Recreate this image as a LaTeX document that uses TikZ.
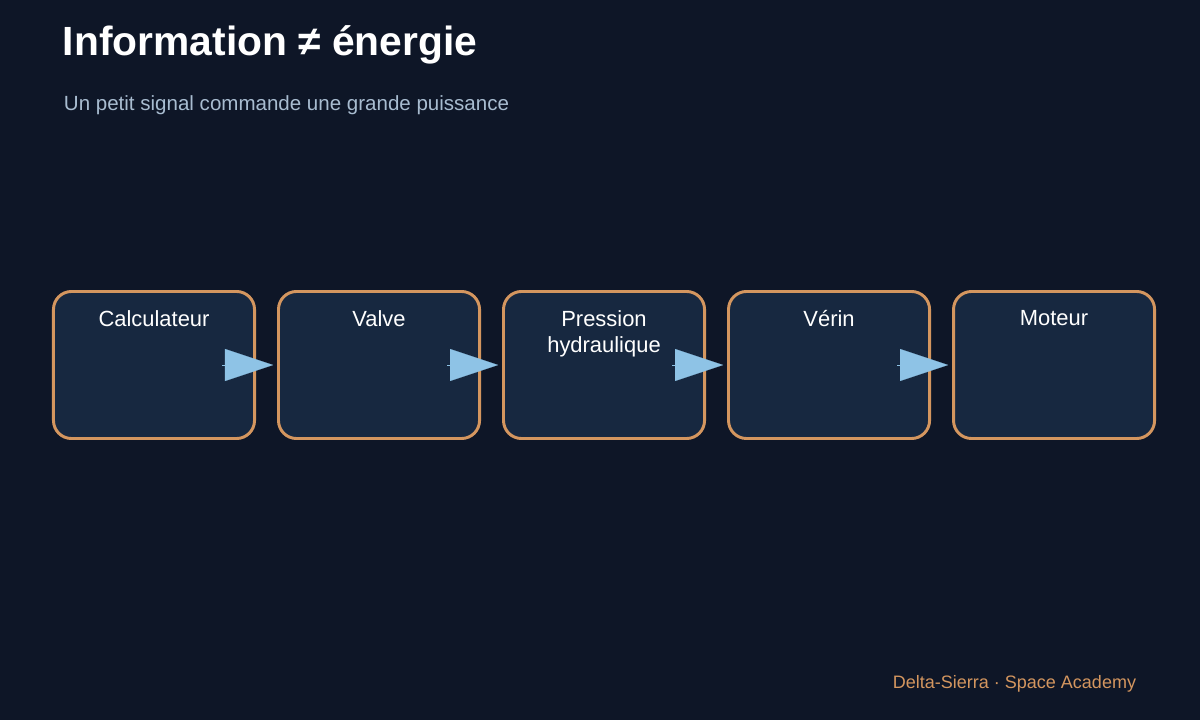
\documentclass[tikz,border=0pt]{standalone}
\usepackage{fontspec}
\setmainfont{Liberation Sans}
\usetikzlibrary{positioning,arrows.meta}
\definecolor{bgdark}{HTML}{0E1627}
\definecolor{boxfill}{HTML}{172840}
\definecolor{boxedge}{HTML}{D4965F}
\definecolor{flowblue}{HTML}{8EC3E6}
\definecolor{subgray}{HTML}{A8BCD0}
\tikzset{
  stage/.style={draw=boxedge,fill=boxfill,line width=2.1pt,rounded corners=0.45cm,
    minimum width=5.025cm,minimum height=3.675cm,inner sep=0pt},
  stagetext/.style={text=white,font=\fontsize{15.6}{18.5}\selectfont,align=center,anchor=north},
  flow/.style={draw=flowblue,line width=0.1pt,-{Triangle[length=1.2cm,width=0.8cm,fill=flowblue]}}
}
\begin{document}
\begin{tikzpicture}[x=0.025cm,y=-0.025cm]
  \fill[bgdark] (0,0) rectangle (1200,720);
  \useasboundingbox (0,0) rectangle (1200,720);
  % titre
  \node[anchor=west,text=white,font=\bfseries\fontsize{29}{34}\selectfont] (title) at (58,45) {Information ≠ énergie};
  \node[anchor=west,text=subgray,font=\fontsize{14.6}{17}\selectfont] (subtitle) at (59,105) {Un petit signal commande une grande puissance};
  % chaine
  \node[stage] (calc) at (154,365) {};
  \node[stage,right=0.525cm of calc] (valve) {};
  \node[stage,right=0.525cm of valve] (press) {};
  \node[stage,right=0.525cm of press] (verin) {};
  \node[stage,right=0.525cm of verin] (moteur) {};
  \foreach \n/\t in {calc/Calculateur,valve/Valve,press/{Pression\\hydraulique},verin/Vérin,moteur/Moteur}{
    \node[stagetext] at ([yshift=-0.38cm]\n.north) {\t};
  }
  \foreach \a/\b in {calc/valve,valve/press,press/verin,verin/moteur}{
    \draw[flow] ([xshift=-0.85cm]\a.east) -- ([xshift=-0.1cm]\b.west);
  }
  % pied
  \node[anchor=east,text=boxedge,font=\fontsize{12.8}{15}\selectfont] (footer) at (1141,684) {Delta-Sierra · Space Academy};
\end{tikzpicture}
\end{document}
